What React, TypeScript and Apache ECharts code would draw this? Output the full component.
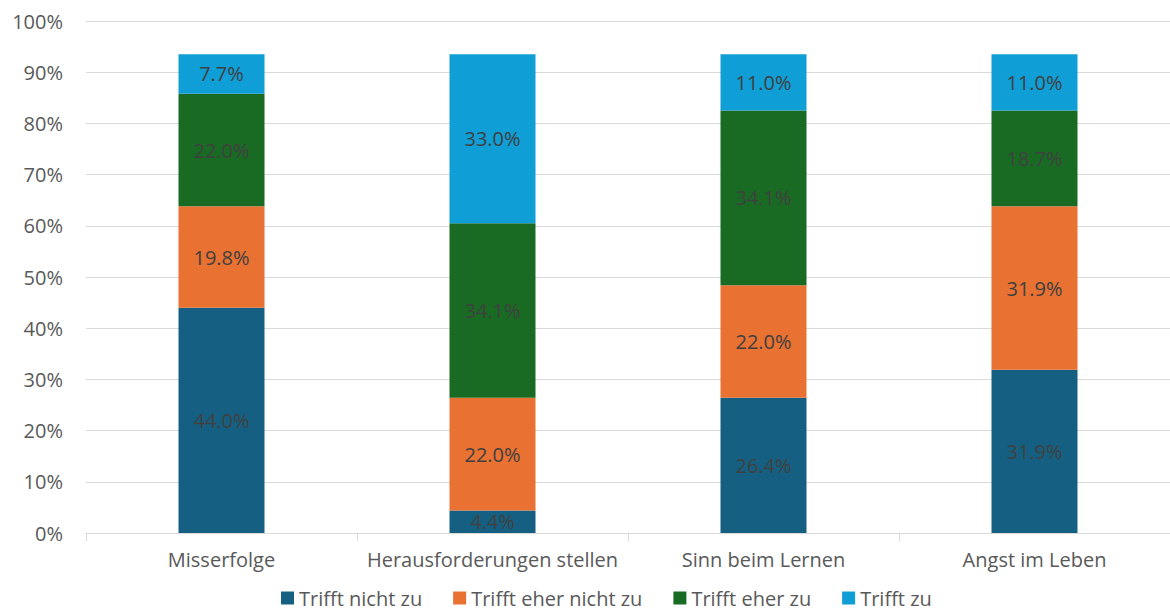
import React, { useEffect, useRef } from "react";
import * as echarts from "echarts";

const categories = ["Misserfolge", "Herausforderungen stellen", "Sinn beim Lernen", "Angst im Leben"];
const seriesNames = ["Trifft nicht zu", "Trifft eher nicht zu", "Trifft eher zu", "Trifft zu"];
const trifftNichtZu = [44.0, 4.4, 26.4, 31.9];
const trifftEherNichtZu = [19.8, 22.0, 22.0, 31.9];
const trifftEherZu = [22.0, 34.1, 34.1, 18.7];
const trifftZu = [7.7, 33.0, 11.0, 11.0];
const colors = ["#156082", "#E97132", "#196B24", "#0F9ED5"];

const FONT = "'Open Sans', 'Noto Sans', sans-serif";

export default function App() {
  const ref = useRef<HTMLDivElement>(null);
  useEffect(() => {
    if (!ref.current) return;
    const chart = echarts.init(ref.current, null, { renderer: "svg" });
    const data = [trifftNichtZu, trifftEherNichtZu, trifftEherZu, trifftZu];
    chart.setOption({
      animation: false,
      textStyle: { fontFamily: FONT },
      grid: { left: 86, right: 0, top: 21, bottom: 81, containLabel: false },
      legend: {
        bottom: 0,
        left: 276,
        itemWidth: 13,
        itemHeight: 13,
        itemGap: 31,
        icon: "rect",
        textStyle: { color: "#595959", fontSize: 20, lineHeight: 22, fontFamily: FONT },
        data: seriesNames,
      },
      xAxis: {
        type: "category",
        data: categories,
        axisLine: { show: true, lineStyle: { color: "#d9d9d9", width: 1 } },
        axisTick: { show: true, length: 8, lineStyle: { color: "#d9d9d9" } },
        axisLabel: { color: "#595959", fontSize: 20, margin: 16, interval: 0, fontFamily: FONT },
      },
      yAxis: {
        type: "value",
        min: 0,
        max: 100,
        interval: 10,
        axisLine: { show: false },
        axisTick: { show: false },
        splitLine: { lineStyle: { color: "#d9d9d9", width: 1 } },
        axisLabel: { color: "#595959", fontSize: 20, margin: 23, formatter: "{value}%", fontFamily: FONT },
      },
      series: data.map((d, i) => ({
        name: seriesNames[i],
        type: "bar",
        stack: "total",
        barWidth: 86,
        data: d,
        itemStyle: { color: colors[i] },
        label: {
          show: true,
          position: "inside",
          color: "#404040",
          fontSize: 20,
          fontFamily: FONT,
          formatter: (p: any) => `${Number(p.value).toFixed(1)}%`,
        },
      })),
    });
    return () => chart.dispose();
  }, []);
  return (
    <div
      ref={ref}
      style={{ position: "fixed", left: 0, top: 0, width: 1170, height: 614, background: "#fff" }}
    />
  );
}
